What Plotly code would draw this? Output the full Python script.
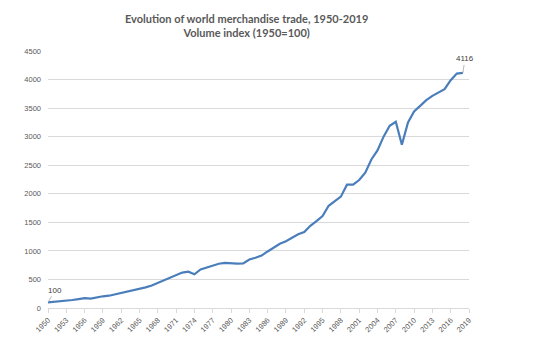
import plotly.graph_objects as go

years = list(range(1950, 2019))
volume_index = [
    100, 108, 115, 128, 140, 155, 172, 163, 185, 205,
    215, 240, 255, 283, 310, 335, 362, 395, 440, 480,
    520, 565, 620, 635, 590, 675, 705, 740, 775, 790,
    782, 778, 780, 850, 880, 918, 990, 1060, 1125, 1170,
    1225, 1290, 1330, 1440, 1520, 1610, 1790, 1870, 1950, 2160,
    2160, 2240, 2370, 2600, 2760, 3000, 3190, 3260, 2858, 3250,
    3440, 3540, 3640, 3715, 3780, 3832, 3990, 4105, 4116,
]
tick_years = list(range(1950, 2020, 3))
y_ticks = list(range(0, 4501, 500))

title_text = "Evolution of world merchandise trade, 1950-2019<br>Volume index (1950=100)"

fig = go.Figure()
fig.add_trace(go.Scatter(
    x=years, y=volume_index, mode="lines",
    line=dict(color="#4A7EBB", width=2.2),
    hoverinfo="x+y", showlegend=False,
))

fig.add_annotation(x=years[0], y=volume_index[0], text=str(volume_index[0]),
                   showarrow=True, arrowhead=0, arrowwidth=0.8, arrowcolor="#A6A6A6",
                   ax=7, ay=-12, font=dict(family="Liberation Sans", size=8, color="#404040"))
fig.add_annotation(x=years[-1], y=volume_index[-1], text=str(volume_index[-1]),
                   showarrow=True, arrowhead=0, arrowwidth=0.8, arrowcolor="#A6A6A6",
                   ax=2, ay=-14, font=dict(family="Liberation Sans", size=8, color="#404040"))

fig.update_layout(
    width=534, height=345,
    margin=dict(l=48, r=65, t=51, b=37),
    paper_bgcolor="white", plot_bgcolor="white",
    title=dict(text=title_text, x=252/534, xanchor="center", xref="paper",
               y=1 - 23/345, yanchor="top", yref="container",
               font=dict(family="Lato", size=11, color="#595959", weight="bold")),
    xaxis=dict(range=[1950, 2019], tickmode="array", tickvals=tick_years,
               ticktext=[str(t) for t in tick_years], tickangle=-45,
               showgrid=False, showline=True, linecolor="#D9D9D9", linewidth=1,
               ticks="outside", ticklen=4, tickcolor="#D9D9D9",
               tickfont=dict(family="Liberation Sans", size=7.5, color="#595959"),
               zeroline=False, fixedrange=True),
    yaxis=dict(range=[0, 4500], tickmode="array", tickvals=y_ticks,
               showgrid=True, gridcolor="#D9D9D9", gridwidth=1,
               showline=False, zeroline=False, ticks="", ticklabelstandoff=6,
               tickfont=dict(family="Liberation Sans", size=7.5, color="#595959"),
               fixedrange=True),
)

fig.write_html("out.html")
